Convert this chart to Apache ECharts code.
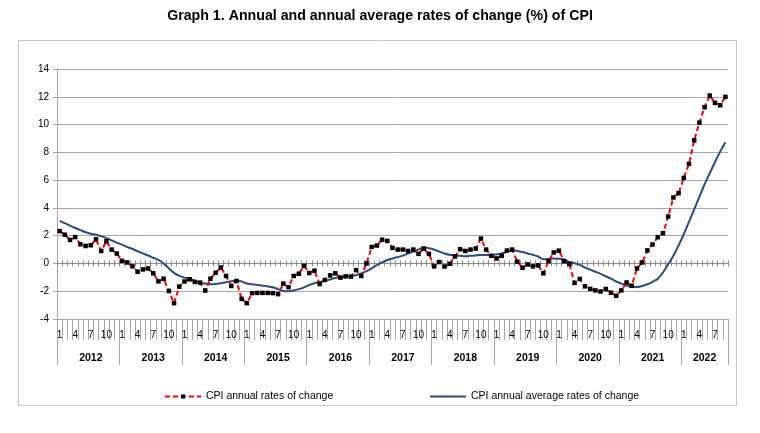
<!DOCTYPE html>
<html>
<head>
<meta charset="utf-8">
<script src="https://cdn.jsdelivr.net/npm/echarts@6/dist/echarts.min.js"></script>
<style>
html,body{margin:0;padding:0;background:#fff;}
#chart{width:760px;height:433px;}
</style>
</head>
<body>
<div id="chart"></div>
<script>
// ---- Data ----
const years = [2012, 2013, 2014, 2015, 2016, 2017, 2018, 2019, 2020, 2021, 2022];
const monthsInLastYear = 9;
const monthTickLabels = ['1', '4', '7', '10'];
const yTicks = { min: -4, max: 14, interval: 2 };

const seriesAnnualName = 'CPI annual rates of change';
const seriesAverageName = 'CPI annual average rates of change';

const cpiAnnual = [
  2.33, 2.07, 1.69, 1.90, 1.38, 1.26, 1.31, 1.74, 0.90, 1.60, 1.00, 0.71,
  0.19, 0.07, -0.21, -0.60, -0.43, -0.36, -0.71, -1.29, -1.10, -1.98, -2.86, -1.67,
  -1.30, -1.14, -1.33, -1.38, -1.95, -1.10, -0.67, -0.29, -0.90, -1.62, -1.26, -2.55,
  -2.86, -2.14, -2.12, -2.12, -2.12, -2.14, -2.21, -1.45, -1.71, -0.90, -0.74, -0.17,
  -0.69, -0.52, -1.48, -1.19, -0.86, -0.71, -1.02, -0.93, -0.95, -0.48, -0.90, 0.00,
  1.19, 1.29, 1.71, 1.62, 1.12, 1.00, 1.00, 0.90, 1.00, 0.69, 1.07, 0.69,
  -0.21, 0.10, -0.22, -0.02, 0.50, 1.02, 0.90, 1.00, 1.07, 1.79, 1.00, 0.55,
  0.36, 0.55, 0.93, 1.00, 0.12, -0.31, -0.07, -0.21, -0.14, -0.71, 0.17, 0.79,
  0.92, 0.16, -0.05, -1.40, -1.12, -1.65, -1.83, -1.94, -2.02, -1.84, -2.11, -2.33,
  -1.94, -1.37, -1.61, -0.36, 0.07, 0.94, 1.37, 1.89, 2.18, 3.38, 4.75, 5.06,
  6.16, 7.17, 8.87, 10.14, 11.25, 12.09, 11.56, 11.39, 11.99
];

const cpiAnnualAverage = [
  3.07, 2.90, 2.72, 2.55, 2.40, 2.25, 2.14, 2.07, 1.97, 1.82, 1.66, 1.50,
  1.35, 1.19, 1.04, 0.88, 0.72, 0.57, 0.41, 0.25, 0.00, -0.35, -0.68, -0.90,
  -1.02, -1.10, -1.25, -1.38, -1.45, -1.50, -1.48, -1.42, -1.35, -1.28, -1.23, -1.30,
  -1.45, -1.50, -1.55, -1.60, -1.65, -1.72, -1.85, -1.98, -2.00, -1.95, -1.85, -1.72,
  -1.55, -1.42, -1.35, -1.25, -1.15, -1.05, -0.98, -0.93, -0.90, -0.85, -0.72, -0.55,
  -0.35, -0.12, 0.08, 0.25, 0.36, 0.46, 0.56, 0.72, 0.85, 1.00, 1.14, 1.10,
  1.00, 0.85, 0.72, 0.62, 0.58, 0.55, 0.52, 0.55, 0.58, 0.60, 0.60, 0.60,
  0.65, 0.72, 0.85, 0.95, 0.90, 0.82, 0.72, 0.62, 0.50, 0.30, 0.32, 0.36,
  0.33, 0.30, 0.10, 0.02, -0.10, -0.30, -0.45, -0.60, -0.75, -0.92, -1.10, -1.30,
  -1.45, -1.60, -1.68, -1.70, -1.62, -1.50, -1.32, -1.10, -0.65, -0.05, 0.55, 1.30,
  2.10, 3.00, 3.90, 4.80, 5.70, 6.50, 7.30, 8.05, 8.73
];

// ---- Categories (year, month) ----
const categories = [];
const catYear = [];
const catMonth = [];
years.forEach(function (y, yi) {
  const n = (yi === years.length - 1) ? monthsInLastYear : 12;
  for (let m = 1; m <= n; m++) {
    categories.push(y + '-' + m);
    catYear.push(y);
    catMonth.push(m);
  }
});
function yearLabelIndex(y) {
  const first = catYear.indexOf(y);
  const last = catYear.lastIndexOf(y);
  return first + Math.floor((last - first) / 2);
}
function yearIsEvenLength(y) {
  return ((catYear.lastIndexOf(y) - catYear.indexOf(y) + 1) % 2) === 0;
}

const GRID = '#a6a6a6';
const AXIS = '#8c8c8c';
const FONT = 'Liberation Sans, Arial, sans-serif';
const RED = '#ff0000';
const BLUE = '#2b4a86';

const chart = echarts.init(document.getElementById('chart'), null, { renderer: 'canvas' });

const option = {
  backgroundColor: '#ffffff',
  animation: false,
  title: {
    text: 'Graph 1. Annual and annual average rates of change (%) of CPI',
    left: 'center',
    top: 4,
    textStyle: { fontFamily: FONT, fontSize: 14.2, fontWeight: 'bold', color: '#000' }
  },
  graphic: [{
    type: 'rect',
    shape: { x: 18.5, y: 40.5, width: 718, height: 365 },
    style: { fill: 'none', stroke: '#c8c8c8', lineWidth: 1 },
    silent: true,
    z: -10
  }],
  legend: [{
    data: [seriesAnnualName],
    left: 159,
    top: 386,
    itemWidth: 36,
    itemHeight: 5,
    itemGap: 4,
    textStyle: { fontFamily: FONT, fontSize: 10.5, color: '#000' }
  }, {
    data: [{ name: seriesAverageName, icon: 'rect' }],
    left: 425,
    top: 386,
    itemWidth: 36,
    itemHeight: 2,
    itemGap: 4,
    textStyle: { fontFamily: FONT, fontSize: 10.5, color: '#000' }
  }],
  grid: { left: 57, right: 32, top: 69, bottom: 114, containLabel: false },
  xAxis: [
    { // zero line, ticks downward
      type: 'category', data: categories, position: 'bottom', boundaryGap: true,
      axisLine: { show: true, onZero: true, onZeroAxisIndex: 0, lineStyle: { color: AXIS, width: 1 } },
      axisTick: { show: true, interval: 0, length: 3, lineStyle: { color: AXIS } },
      axisLabel: { show: false }, splitLine: { show: false }
    },
    { // zero line, ticks upward
      type: 'category', data: categories, position: 'top', boundaryGap: true,
      axisLine: { show: true, onZero: true, onZeroAxisIndex: 0, lineStyle: { color: AXIS, width: 1 } },
      axisTick: { show: true, interval: 0, length: 3, lineStyle: { color: AXIS } },
      axisLabel: { show: false }, splitLine: { show: false }
    },
    { // bottom month labels
      type: 'category', data: categories, position: 'bottom', boundaryGap: true,
      axisLine: { show: true, onZero: false, lineStyle: { color: GRID, width: 1 } },
      axisTick: { show: true, interval: 0, length: 21, lineStyle: { color: GRID } },
      axisLabel: {
        show: true, interval: 0, margin: 11, fontFamily: FONT, fontSize: 10, color: '#000',
        formatter: function (v, i) {
          const m = String(catMonth[i]);
          return monthTickLabels.indexOf(m) >= 0 ? m : '';
        }
      },
      splitLine: { show: false }
    },
    { // year separators and labels
      type: 'category', data: categories, position: 'bottom', boundaryGap: true,
      axisLine: { show: false, onZero: false },
      axisTick: {
        show: true, length: 46, lineStyle: { color: GRID },
        interval: function (i) { return catMonth[i] === 1; }
      },
      axisLabel: {
        show: true, margin: 34, fontFamily: FONT, fontSize: 10.5, fontWeight: 'bold', color: '#000',
        interval: function (i) { return i === yearLabelIndex(catYear[i]); },
        formatter: function (v, i) {
          const y = catYear[i];
          return yearIsEvenLength(y) ? '{e|' + y + '}' : '{o|' + y + '}';
        },
        rich: {
          e: { fontFamily: FONT, fontSize: 10.5, fontWeight: 'bold', color: '#000', padding: [0, 0, 0, 10.4] },
          o: { fontFamily: FONT, fontSize: 10.5, fontWeight: 'bold', color: '#000' }
        }
      },
      splitLine: { show: false }
    }
  ],
  yAxis: {
    type: 'value', min: yTicks.min, max: yTicks.max, interval: yTicks.interval,
    axisLine: { show: true, onZero: false, lineStyle: { color: GRID } },
    axisTick: { show: true, length: 4, lineStyle: { color: GRID } },
    axisLabel: { fontFamily: FONT, fontSize: 10, color: '#000', margin: 8 },
    splitLine: { show: true, lineStyle: { color: GRID, width: 1 } }
  },
  series: [
    {
      name: seriesAnnualName,
      type: 'line',
      data: cpiAnnual,
      xAxisIndex: 0,
      symbol: 'rect',
      symbolSize: 4.5,
      showAllSymbol: true,
      itemStyle: { color: '#000000' },
      lineStyle: { color: RED, width: 2, type: [5, 3] },
      z: 3
    },
    {
      name: seriesAverageName,
      type: 'line',
      data: cpiAnnualAverage,
      xAxisIndex: 0,
      symbol: 'none',
      smooth: 0.3,
      itemStyle: { color: BLUE },
      lineStyle: { color: BLUE, width: 2 },
      z: 2
    }
  ]
};
chart.setOption(option);
</script>
</body>
</html>
